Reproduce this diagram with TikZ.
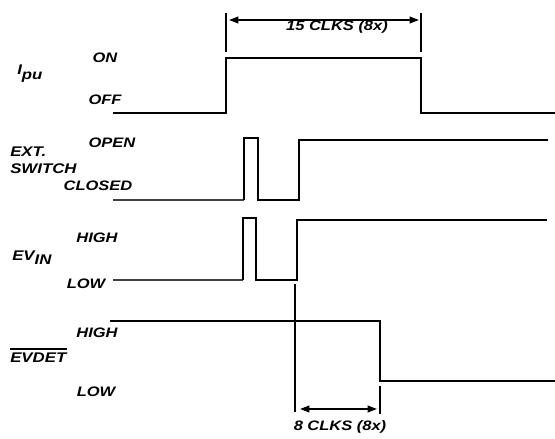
\documentclass[tikz,border=0pt]{standalone}
\usepackage{fontspec}
\setmainfont{Liberation Sans}[FakeStretch=1.2]
\usetikzlibrary{arrows.meta,positioning}
\tikzset{
    wave/.style = {line width=1.8pt, line join=miter},
    wave-lead/.style = {line width=1.1pt, draw=black!75},
    sig-name/.style = {font=\bfseries\itshape\fontsize{10.5}{12}\selectfont, inner sep=0pt},
    level-name/.style = {font=\bfseries\itshape\fontsize{10.3}{12}\selectfont, inner sep=0pt},
    marker-line/.style = {line width=1.3pt},
    dim-arrow/.style = {line width=1.3pt, {Triangle[length=7pt,width=5pt]}-{Triangle[length=7pt,width=5pt]}},
}

\begin{document}
\begin{tikzpicture}[x=0.75pt,y=-0.75pt]
\useasboundingbox (0,0) rectangle (555,438);

% signal names
\node[sig-name, anchor=base west] (ipu) at (17,75) {I\raisebox{-3.5pt}{pu}};
\node[sig-name, anchor=west] (ext) at (10,152) {EXT.};
\node[sig-name, below=5pt of ext.south west, anchor=north west] (switch) {SWITCH};
\node[sig-name, anchor=base west] (evin) at (12,260) {EV\raisebox{-3.5pt}{IN}};
\node[sig-name, anchor=west] (evdet) at (10,358) {EVDET};
\draw[line width=1pt] ([yshift=3pt]evdet.north west) -- ([yshift=3pt]evdet.north east);

% level names
\node[level-name] (on) at (105,58) {ON};
\node[level-name] (off) at (105,100) {OFF};
\node[level-name] (open) at (112,143) {OPEN};
\node[level-name] (closed) at (98,186) {CLOSED};
\node[level-name] (evin-high) at (97,238) {HIGH};
\node[level-name] (evin-low) at (86,284) {LOW};
\node[level-name] (evdet-high) at (97,333) {HIGH};
\node[level-name] (evdet-low) at (96,392) {LOW};

% waveforms
\draw[wave] (113,113) -- (226,113) -- (226,58) -- (421,58) -- (421,113) -- (555,113);
\draw[wave-lead] (113,200) -- (244,200);
\draw[wave] (244,200) -- (244,138) -- (258,138) -- (258,200) -- (299,200) -- (299,140) -- (548,140);
\draw[wave-lead] (113,280) -- (243,280);
\draw[wave] (243,280) -- (243,218) -- (256,218) -- (256,280) -- (297,280) -- (297,220) -- (547,220);
\draw[wave] (110,321) -- (380,321) -- (380,381) -- (555,381);

% timing marks
\coordinate (top-a) at (226,13);
\coordinate (top-b) at (421,13);
\draw[marker-line] (top-a) -- ++(0,39);
\draw[marker-line] (top-b) -- ++(0,39);
\draw[dim-arrow] ([shift={(3,7)}]top-a) -- ([shift={(-2,7)}]top-b);
\node[level-name] (clk15) at (337,27) {15 CLKS (8x)};

\coordinate (bot-a) at (295,284);
\coordinate (bot-b) at (380,386);
\draw[marker-line] (bot-a) -- (295,412);
\draw[marker-line] (bot-b) -- (380,414);
\draw[dim-arrow] (300,409) -- (377,409);
\node[level-name] (clk8) at (340,427) {8 CLKS (8x)};
\end{tikzpicture}
\end{document}
